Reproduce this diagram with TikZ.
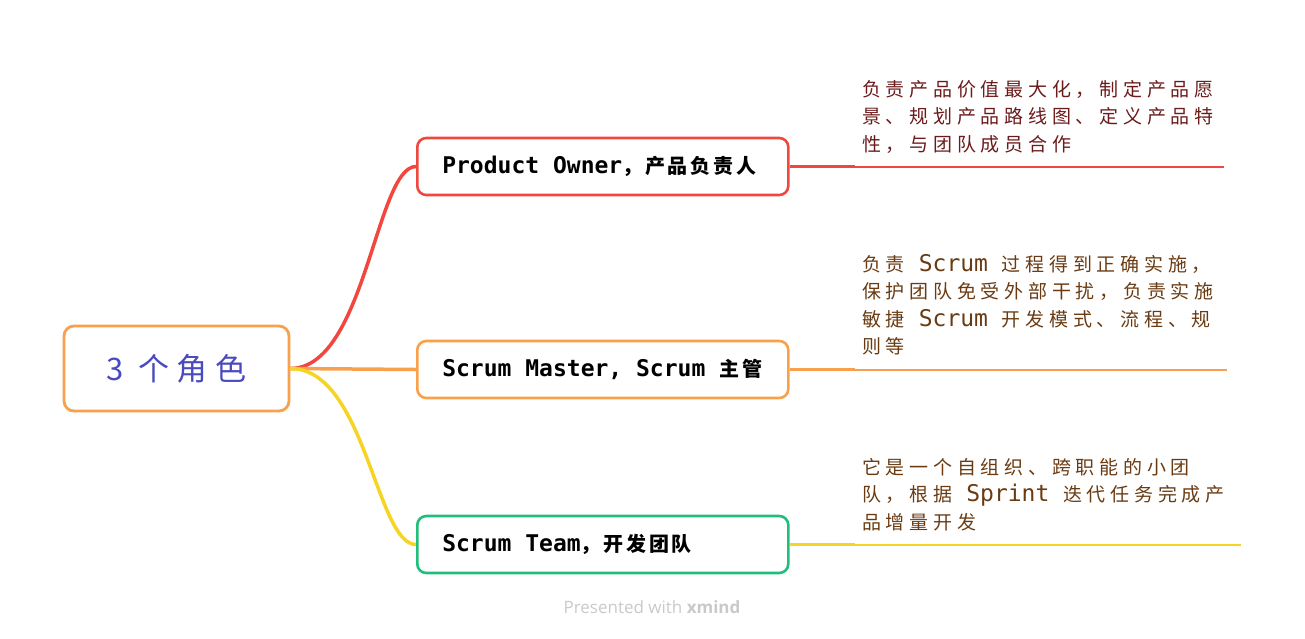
\documentclass[tikz,border=0pt]{standalone}
\usepackage{fontspec}
\setmainfont{DejaVu Sans}
\newfontfamily\monofont{DejaVu Sans Mono}
\newfontfamily\boxzh[LetterSpace=14]{Noto Sans CJK SC}
\newfontfamily\notezh[LetterSpace=25]{Noto Sans CJK SC}
\newfontfamily\rootzh[LetterSpace=25]{Noto Sans CJK SC}
\newfontfamily\markfont{Open Sans}
\usepackage{xcolor}
\usepackage{tikz}
\usetikzlibrary{positioning}
\definecolor{RoleRed}{HTML}{F2473F}
\definecolor{RoleOrange}{HTML}{F8A04B}
\definecolor{RoleYellow}{HTML}{F5D423}
\definecolor{RoleGreen}{HTML}{1FBE7B}
\definecolor{RootInk}{HTML}{4A4ABF}
\definecolor{NoteRed}{HTML}{6C1B1B}
\definecolor{NoteBrown}{HTML}{6A3B12}
\definecolor{MarkGray}{HTML}{C9C9C9}
% box and note text
\newcommand{\boxtxt}[2]{\makebox[321pt][l]{{\monofont\bfseries\fontsize{23}{27}\selectfont
  \fontdimen2\font=0.602em #1}{\boxzh\bfseries\fontsize{20}{27}\selectfont #2}}}
\newcommand{\lat}[1]{{\monofont\fontsize{23}{27.5}\selectfont\fontdimen2\font=0.602em\ #1\ }}
\tikzset{
  rolebox/.style={draw,fill=white,line width=2.6pt,rounded corners=9pt,
    inner xsep=25pt,inner ysep=0pt,minimum height=57pt,anchor=west},
  note/.style={anchor=north west,inner sep=0pt,align=left,
    font=\notezh\fontsize{19}{27.5}\selectfont},
  branch/.style={line width=3.5pt,line cap=round},
  underline/.style={line width=2pt}
}

\begin{document}
\begin{tikzpicture}[x=1pt,y=-1pt]
  \useasboundingbox (0,0) rectangle (1305,638);
  % root
  \node[draw=RoleOrange,fill=white,line width=2.8pt,rounded corners=10pt,
    minimum width=225pt,minimum height=85pt,text=RootInk,
    font=\rootzh\fontsize{31}{31}\selectfont] (root) at (176.5,368.5) {3 个角色};
  % roles
  \coordinate (poin) at (416,166.5);
  \coordinate (smin) at (416,369.5);
  \coordinate (stin) at (416,544.5);
  \draw[branch,RoleRed] (root.east) .. controls +(75,0) and +(-40,0) .. (poin);
  \draw[branch,RoleOrange] (root.east) -- (smin);
  \draw[branch,RoleYellow] (root.east) .. controls +(75,0) and +(-40,0) .. (stin);
  \node[rolebox,draw=RoleRed] (po) at (poin) {\boxtxt{Product Owner}{，产品负责人}};
  \node[rolebox,draw=RoleOrange] (sm) at (smin) {\boxtxt{Scrum Master, Scrum\ }{主管}};
  \node[rolebox,draw=RoleGreen] (st) at (stin) {\boxtxt{Scrum Team}{，开发团队}};
  % notes
  \coordinate (poknee) at (855,166.5);
  \coordinate (poend) at (1224,166.5);
  \coordinate (smknee) at (855,369.5);
  \coordinate (smend) at (1227,369.5);
  \coordinate (stknee) at (855,544.5);
  \coordinate (stend) at (1241,544.5);
  \draw[branch,line cap=butt,RoleRed] (po.east) -- (poknee);
  \draw[underline,RoleRed] (poknee) -- (poend);
  \draw[branch,line cap=butt,RoleOrange] (sm.east) -- (smknee);
  \draw[underline,RoleOrange] (smknee) -- (smend);
  \draw[branch,line cap=butt,RoleYellow] (st.east) -- (stknee);
  \draw[underline,RoleYellow] (stknee) -- (stend);
  \node[note,text=NoteRed] (ponote) at (862,80)
    {负责产品价值最大化，制定产品愿\\景、规划产品路线图、定义产品特\\性，与团队成员合作};
  \node[note,text=NoteBrown] (smnote) at (862,254)
    {负责\lat{Scrum}过程得到正确实施，\\保护团队免受外部干扰，负责实施\\敏捷\lat{Scrum}开发模式、流程、规\\则等};
  \node[note,text=NoteBrown] (stnote) at (862,458)
    {它是一个自组织、跨职能的小团\\队，根据\lat{Sprint}迭代任务完成产\\品增量开发};
  % watermark
  \node[text=MarkGray,font=\markfont\fontsize{17}{17}\selectfont] (mark) at (652,607)
    {Presented with \textbf{xmind}};
\end{tikzpicture}
\end{document}
